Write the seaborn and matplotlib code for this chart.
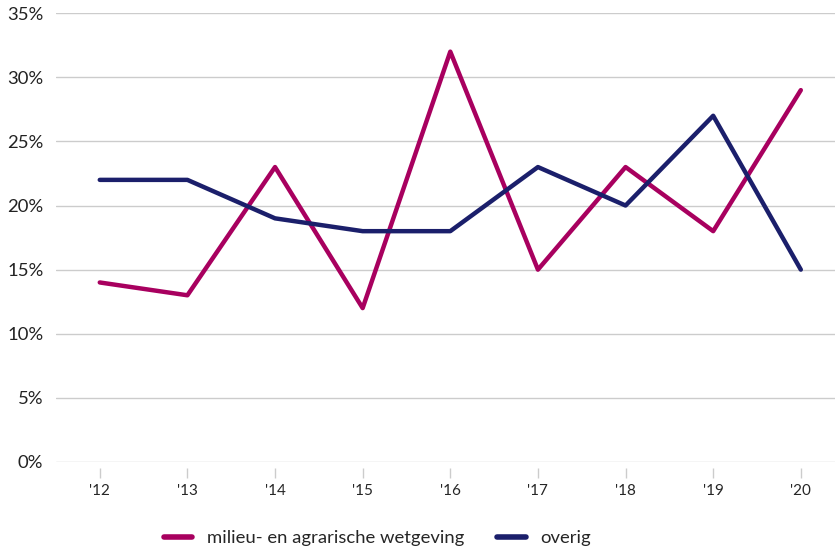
import matplotlib
matplotlib.use("Agg")
import matplotlib.pyplot as plt
import seaborn as sns
import pandas as pd

years = ["'12", "'13", "'14", "'15", "'16", "'17", "'18", "'19", "'20"]
milieu = [14, 13, 23, 12, 32, 15, 23, 18, 29]
overig = [22, 22, 19, 18, 18, 23, 20, 27, 15]
series_names = ["milieu- en agrarische wetgeving", "overig"]
colors = ["#A8005F", "#1B1F6B"]
yticks = [0, 5, 10, 15, 20, 25, 30, 35]

sns.set_theme(style="white")
plt.rcParams['font.family'] = ['Lato', 'DejaVu Sans']

df = pd.DataFrame({
    "x": list(range(len(years))) * 2,
    "val": milieu + overig,
    "serie": [series_names[0]] * len(years) + [series_names[1]] * len(years),
})

fig = plt.figure(figsize=(8.35, 5.49), dpi=100)
ax = fig.add_axes([0.067, 0.1585, 0.933, 0.8175])
sns.lineplot(data=df, x="x", y="val", hue="serie", palette=colors, linewidth=3.2,
             ax=ax, legend=False)

fs = 13.3
ax.set_xlim(-0.5, 8.39)
ax.set_ylim(0, 35)
ax.set_yticks(yticks)
ax.set_yticklabels([f"{v}%" for v in yticks], fontsize=fs, color="#222222")
ax.set_xticks(range(len(years)))
ax.set_xticklabels(years, fontsize=fs, color="#222222")
ax.set_xlabel("")
ax.set_ylabel("")
for y in yticks:
    ax.axhline(y, color="#CCCCCC", linewidth=1, zorder=0)
for s in ["top", "right", "left"]:
    ax.spines[s].set_visible(False)
ax.spines["bottom"].set_position(("outward", 4.5))
ax.spines["bottom"].set_visible(False)
ax.tick_params(axis="x", length=7, width=1, color="#CCCCCC", pad=4, bottom=True)
ax.tick_params(axis="y", length=0, pad=9)

from matplotlib.lines import Line2D
handles = [Line2D([0], [0], color=c, linewidth=4, solid_capstyle="round") for c in colors]
fig.legend(handles, series_names, loc="center", bbox_to_anchor=(0.452, 0.02), ncol=2,
           frameon=False, fontsize=fs, handlelength=1.55, columnspacing=1.75,
           handletextpad=0.8)

fig.savefig("out.png", dpi=100)
